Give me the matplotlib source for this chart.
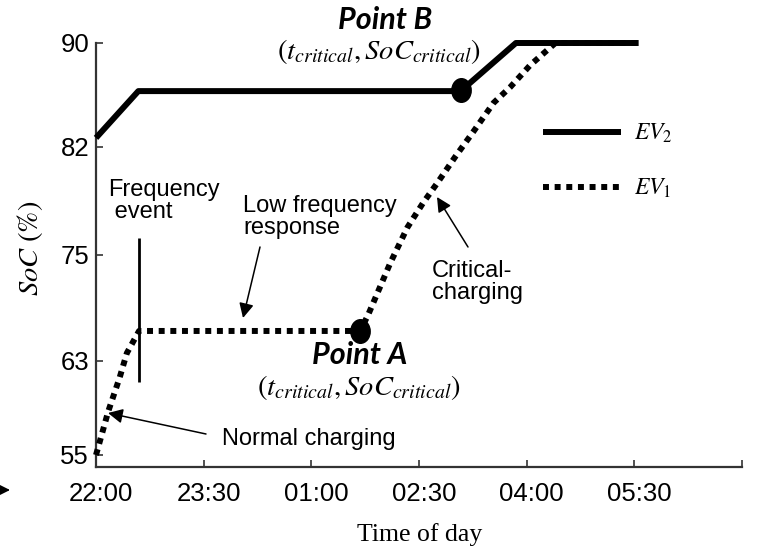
import numpy as np
import matplotlib
matplotlib.use('Agg')
import matplotlib.pyplot as plt
from matplotlib.markers import MarkerStyle
from matplotlib.transforms import Affine2D, ScaledTranslation

plt.rcParams['mathtext.fontset'] = 'stix'
plt.rcParams['font.family'] = ['Liberation Sans', 'DejaVu Sans']

# time in hours after 22:00
ev1_t = [0.0, 0.17, 0.33, 0.43, 0.60, 3.68, 3.79, 4.10, 4.34, 4.56, 4.76, 5.01, 5.26, 5.54, 5.77, 6.05, 6.40, 7.56]
ev1_soc = [55.0, 58.7, 61.6, 63.9, 66.4, 66.4, 68.2, 74.1, 76.8, 78.4, 79.7, 81.4, 83.2, 85.4, 86.6, 88.3, 90.0, 90.0]
ev2_t = [0.0, 0.59, 5.08, 5.85, 7.56]
ev2_soc = [82.7, 86.3, 86.3, 90.0, 90.0]

point_a = (3.68, 66.4)
point_b = (5.08, 86.4)
freq_event_t = 0.60
freq_event_soc = (61.2, 76.1)

x_ticks = [0, 1.5, 3, 4.5, 6, 7.5, 9]
x_labels = ['22:00', '23:30', '01:00', '02:30', '04:00', '05:30', '']
soc_ticks = [55, 63, 75, 82, 90]
# the y axis in the original is not linear: ticks are drawn at these heights
tick_pos = [12, 106, 212, 320, 424]


def soc_fwd(v):
    v = np.asarray(v, dtype=float)
    out = np.interp(v, soc_ticks, tick_pos)
    s_lo = (tick_pos[1] - tick_pos[0]) / (soc_ticks[1] - soc_ticks[0])
    s_hi = (tick_pos[-1] - tick_pos[-2]) / (soc_ticks[-1] - soc_ticks[-2])
    out = np.where(v < soc_ticks[0], tick_pos[0] + (v - soc_ticks[0]) * s_lo, out)
    out = np.where(v > soc_ticks[-1], tick_pos[-1] + (v - soc_ticks[-1]) * s_hi, out)
    return out


def soc_inv(p):
    p = np.asarray(p, dtype=float)
    out = np.interp(p, tick_pos, soc_ticks)
    s_lo = (soc_ticks[1] - soc_ticks[0]) / (tick_pos[1] - tick_pos[0])
    s_hi = (soc_ticks[-1] - soc_ticks[-2]) / (tick_pos[-1] - tick_pos[-2])
    out = np.where(p < tick_pos[0], soc_ticks[0] + (p - tick_pos[0]) * s_lo, out)
    out = np.where(p > tick_pos[-1], soc_ticks[-1] + (p - tick_pos[-1]) * s_hi, out)
    return out


W, H = 761, 551


def fp(x, y):
    # pixel position (from top-left) -> figure fraction
    return (x / W, 1 - y / H)


fig = plt.figure(figsize=(W / 100, H / 100), dpi=100)
ax = fig.add_axes([96 / W, 1 - 467 / H, 646 / W, 424 / H])
ax.set_yscale('function', functions=(soc_fwd, soc_inv))

lw = 4.3
ax.plot(ev1_t, ev1_soc, color='black', lw=lw, linestyle=(0, (1, 0.95)),
        dash_capstyle='butt', clip_on=False, label='$EV_1$', zorder=3)
ax.plot(ev2_t, ev2_soc, color='black', lw=lw, solid_capstyle='butt',
        clip_on=False, label='$EV_2$', zorder=4)

ax.vlines(freq_event_t, *freq_event_soc, color='black', lw=2, zorder=3)

dot = MarkerStyle('o', transform=Affine2D().scale(0.82, 1.0))
ax.plot(*point_a, marker=dot, ms=17, color='black', zorder=6, clip_on=False)
ax.plot(*point_b, marker=dot, ms=17, color='black', zorder=6, clip_on=False)

ax.set_xlim(0, 9)
ax.set_ylim(float(soc_inv(0)), 90)
ax.set_xticks(x_ticks)
ax.set_xticklabels(x_labels)
ax.set_yticks(soc_ticks)
ax.set_yticklabels([str(v) for v in soc_ticks])
ax.yaxis.set_minor_locator(matplotlib.ticker.NullLocator())
ax.tick_params(direction='in', length=5, width=1.2, labelsize=18.5, colors='#333333',
               labelcolor='black')
ax.tick_params(axis='x', pad=11)
ax.tick_params(axis='y', pad=5)
for lab in ax.get_xticklabels():
    lab.set_transform(lab.get_transform() + ScaledTranslation(5 / 100, 0, fig.dpi_scale_trans))

for side in ['top', 'right']:
    ax.spines[side].set_visible(False)
for side in ['left', 'bottom']:
    ax.spines[side].set_linewidth(1.6)
    ax.spines[side].set_color('#333333')

ax.set_xlabel('Time of day', fontsize=18.5, family='Liberation Serif')
ax.xaxis.set_label_coords((420 - 96) / 646, (467 - 523) / 424)
ax.set_ylabel(r'$SoC\ (\%)$', fontsize=20.5, va='center')
ax.yaxis.set_label_coords((30 - 96) / 646, (467 - 248) / 424)

# legend (EV2 first)
h, l = ax.get_legend_handles_labels()
ax.legend(h[::-1], l[::-1], loc='upper left', bbox_to_anchor=fp(543, 122),
          bbox_transform=fig.transFigure, frameon=False, fontsize=17,
          handlelength=3.3, handletextpad=0.55, labelspacing=1.35,
          borderpad=0, borderaxespad=0)

txt = dict(fontsize=17, ha='left', va='center', linespacing=1.05, transform=fig.transFigure)
fig.text(*fp(108, 201), 'Frequency\n event', **txt)
fig.text(*fp(243, 217), 'Low frequency\nresponse', **txt)
fig.text(*fp(432, 282), 'Critical-\ncharging', **txt)
fig.text(*fp(222, 439), 'Normal charging', **txt)

bold = dict(fontsize=22, fontweight='bold', fontstyle='italic', family='Lato',
            ha='center', va='center', transform=fig.transFigure)
fig.text(*fp(385, 20), 'Point B', **bold)
fig.text(*fp(360, 355), 'Point A', **bold)
crit = r'$(t_{critical},SoC_{critical})$'
fig.text(*fp(379, 52), crit, fontsize=20.5, ha='center', va='center', transform=fig.transFigure)
fig.text(*fp(359, 388), crit, fontsize=20.5, ha='center', va='center', transform=fig.transFigure)

arrow = dict(arrowstyle='-|>', color='black', lw=1.1, mutation_scale=22, shrinkA=0, shrinkB=0)
for tail, tip in [((260, 247), (243, 318)),
                  ((468, 247), (437, 197)),
                  ((206, 434), (108, 413)),
                  ((-20, 490), (10, 490))]:
    ax.annotate('', xy=fp(*tip), xytext=fp(*tail), xycoords='figure fraction',
                textcoords='figure fraction', arrowprops=arrow, annotation_clip=False)

fig.savefig('out.png', dpi=100)
